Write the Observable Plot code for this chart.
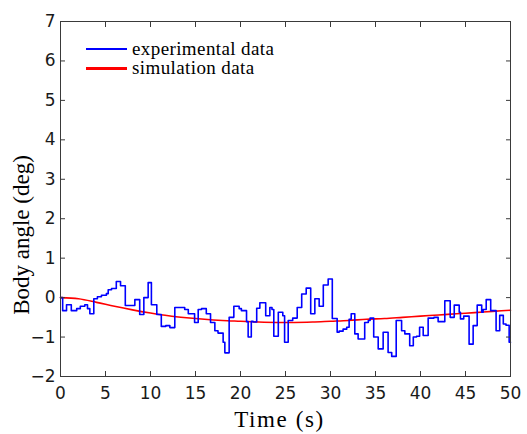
<!DOCTYPE html>
<html>
<head>
<meta charset="utf-8">
<script src="https://cdn.jsdelivr.net/npm/d3@7"></script>
<script src="https://cdn.jsdelivr.net/npm/@observablehq/plot@0.6"></script>
<style>
  html, body { margin: 0; padding: 0; background: #fff; }
  #wrap { position: relative; width: 527px; height: 434px; }
  #legend { position: absolute; left: 86px; top: 39px; font-family: "Liberation Serif", serif; font-size: 19px; color: #000; letter-spacing: 0.4px; }
  #legend .row { display: flex; align-items: center; height: 19.5px; }
  #legend .sw { display: inline-block; width: 41px; height: 2.5px; margin-right: 5px; }
  .xtitle text { letter-spacing: 1.6px; }
</style>
</head>
<body>
<div id="wrap"></div>
<script>
// Experimental data (step-wise sampled), time in s, angle in deg
const expTime = [0, 0.24, 0.67, 1.2, 1.8, 2.2, 2.7, 3.0, 3.26, 3.7, 4.1, 4.55, 5.1, 5.3, 5.67, 6.2, 6.67, 7.2, 8.26, 8.8,
  9.26, 9.74, 10.1, 10.7, 11.2, 11.7, 12.15, 12.7, 13.8, 14.2, 14.9, 15.3, 15.67, 16.2, 16.67, 17.15, 17.5, 18.07, 18.26, 18.74,
  19.26, 19.85, 20.1, 20.67, 20.85, 21.2, 21.4, 21.8, 22.15, 22.8, 23.26, 23.5, 23.7, 24.2, 24.7, 24.9, 25.3, 25.8, 26.3, 26.8,
  27.3, 27.8, 28.26, 28.74, 29.2, 29.74, 30.2, 30.74, 30.96, 31.4, 31.8, 32.07, 32.3, 32.7, 33.07, 33.8, 34.2, 34.4, 34.8, 35.3,
  35.85, 36.4, 36.8, 37.3, 37.9, 38.26, 38.8, 39.2, 39.56, 39.9, 40.3, 40.85, 41.5, 41.96, 42.7, 43.3, 43.75, 44.3, 44.44, 44.8,
  45.4, 45.85, 46.3, 46.8, 46.96, 47.3, 47.8, 48.4, 48.8, 49.2, 49.5, 49.85, 50];
const expAngle = [0.0, -0.33, -0.18, -0.33, -0.28, -0.22, -0.18, -0.28, -0.41, -0.03, 0.02, 0.06, 0.1, 0.2, 0.23, 0.41, 0.3, -0.2, -0.05, -0.43,
  0.0, 0.38, -0.18, -0.43, -0.73, -0.71, -0.76, -0.25, -0.3, -0.41, -0.63, -0.3, -0.28, -0.41, -0.63, -0.84, -0.9, -1.13, -1.4, -0.5,
  -0.22, -0.28, -0.33, -0.61, -1.0, -0.6, -0.62, -0.27, -0.13, -0.46, -0.25, -0.3, -0.98, -0.37, -0.46, -1.13, -0.58, -0.52, -0.25, 0.09,
  0.24, -0.41, -0.03, -0.22, 0.32, 0.47, -0.53, -0.88, -0.85, -0.8, -0.75, -0.55, -0.41, -0.92, -1.05, -0.63, -0.58, -0.52, -1.0, -1.3,
  -0.88, -1.39, -1.49, -0.58, -0.84, -0.92, -1.22, -1.0, -0.98, -0.75, -0.96, -0.52, -0.5, -0.61, -0.08, -0.5, -0.19, -0.37, -0.54, -0.47,
  -1.18, -0.71, -0.19, -0.37, -0.3, -0.05, -0.33, -0.84, -0.45, -0.67, -0.7, -1.13, -1.13];

// Simulation data (smooth)
const simTime = [0, 2, 4, 6, 8, 10, 12, 14, 16, 18, 20, 22, 24, 26, 28, 30, 32, 34, 36, 38, 40, 42, 44, 46, 48, 50];
const simAngle = [0, -0.03, -0.12, -0.22, -0.31, -0.39, -0.46, -0.51, -0.55, -0.58, -0.6, -0.62, -0.63, -0.63, -0.62, -0.6,
  -0.58, -0.55, -0.53, -0.5, -0.47, -0.44, -0.41, -0.38, -0.35, -0.32];

const xTicks = [0, 5, 10, 15, 20, 25, 30, 35, 40, 45, 50];
const yTicks = [-2, -1, 0, 1, 2, 3, 4, 5, 6, 7];
const seriesNames = ["experimental data", "simulation data"];
const seriesColors = ["#0000ff", "#ff0000"];

const exp = expTime.map((t, i) => ({t, a: expAngle[i]}));
const sim = simTime.map((t, i) => ({t, a: simAngle[i]}));

const axisColor = "#3a3a3a";
const tickFont = {fontFamily: "DejaVu Sans, sans-serif", fontSize: 17};
const titleFont = {fontFamily: "Liberation Serif, serif", fontSize: 23, fontWeight: "normal", fill: "#000"};

const chart = Plot.plot({
  width: 527,
  height: 434,
  marginLeft: 60,
  marginRight: 17,
  marginTop: 21,
  marginBottom: 58,
  style: {background: "#fff", color: "#1a1a1a", fontFamily: "DejaVu Sans, sans-serif", fontSize: "17px"},
  x: {domain: [0, 50], ticks: xTicks},
  y: {domain: [-2, 7], ticks: yTicks},
  marks: [
    Plot.line(sim, {x: "t", y: "a", stroke: seriesColors[1], strokeWidth: 1.6, curve: "monotone-x"}),
    Plot.line(exp, {x: "t", y: "a", stroke: seriesColors[0], strokeWidth: 1.6, curve: "step-after"}),
    Plot.frame({stroke: axisColor, strokeWidth: 1}),
    // inward tick marks on all four sides
    Plot.axisX(xTicks, {anchor: "bottom", tickSize: -5, fill: "none", stroke: axisColor, label: null}),
    Plot.axisX(xTicks, {anchor: "top", tickSize: -5, fill: "none", stroke: axisColor, label: null}),
    Plot.axisY(yTicks, {anchor: "left", tickSize: -5, fill: "none", stroke: axisColor, label: null}),
    Plot.axisY(yTicks, {anchor: "right", tickSize: -5, fill: "none", stroke: axisColor, label: null}),
    // tick labels
    Plot.axisX(xTicks, {anchor: "bottom", tickSize: 0, tickPadding: 10, stroke: "none", label: null, ...tickFont}),
    Plot.axisY(yTicks, {anchor: "left", tickSize: 0, tickPadding: 5, stroke: "none", label: null, ...tickFont}),
    // axis titles
    Plot.text(["Time (s)"], {frameAnchor: "bottom", textAnchor: "middle", lineAnchor: "middle", dx: -6, dy: 43, className: "xtitle", ...titleFont, text: d => d}),
    Plot.text(["Body angle (deg)"], {frameAnchor: "left", textAnchor: "middle", lineAnchor: "middle", dx: -39, dy: 36, rotate: -90, ...titleFont, text: d => d})
  ]
});

const wrap = document.getElementById("wrap");
wrap.appendChild(chart);

// legend overlay
const legend = document.createElement("div");
legend.id = "legend";
seriesNames.forEach((name, i) => {
  const row = document.createElement("div");
  row.className = "row";
  const sw = document.createElement("span");
  sw.className = "sw";
  sw.style.background = seriesColors[i];
  const label = document.createElement("span");
  label.textContent = name;
  row.appendChild(sw);
  row.appendChild(label);
  legend.appendChild(row);
});
wrap.appendChild(legend);
</script>
</body>
</html>
